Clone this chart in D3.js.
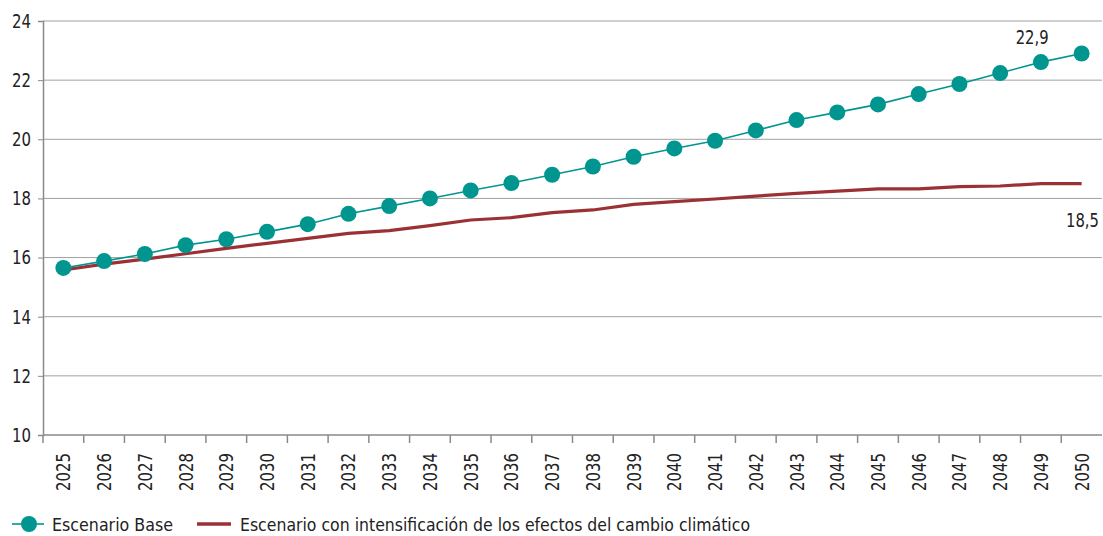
<!DOCTYPE html>
<html>
<head>
<meta charset="utf-8">
<script src="https://cdn.jsdelivr.net/npm/d3@7"></script>
<style>
  body { margin: 0; background: #fff; }
  svg text { font-family: "DejaVu Sans", sans-serif; fill: #222; }
</style>
</head>
<body>
<script>
// years on the x axis
var years = ["2025","2026","2027","2028","2029","2030","2031","2032","2033","2034","2035","2036","2037",
             "2038","2039","2040","2041","2042","2043","2044","2045","2046","2047","2048","2049","2050"];
// Escenario Base
var baseValues = [15.65, 15.88, 16.12, 16.42, 16.62, 16.87, 17.13, 17.48, 17.74, 18.0, 18.27, 18.52, 18.8,
                  19.08, 19.41, 19.69, 19.95, 20.3, 20.65, 20.91, 21.18, 21.53, 21.87, 22.24, 22.61, 22.9];
// Escenario con intensificacion
var climateValues = [15.58, 15.78, 15.95, 16.13, 16.31, 16.48, 16.65, 16.82, 16.91, 17.08, 17.27, 17.35, 17.52,
                     17.61, 17.8, 17.89, 17.98, 18.08, 18.17, 18.25, 18.32, 18.32, 18.4, 18.42, 18.5, 18.5];
var yTicks = [10, 12, 14, 16, 18, 20, 22, 24];
var seriesNames = ["Escenario Base", "Escenario con intensificación de los efectos del cambio climático"];

var width = 1103, height = 536;
var margin = {top: 21, right: 1, bottom: 101, left: 43};
var teal = "#00968f", red = "#9b3135";
var fmt = function(v) { return d3.format(".1f")(v).replace(".", ","); };

var svg = d3.select("body").append("svg")
    .attr("width", width)
    .attr("height", height);

var x = d3.scaleBand()
    .domain(years)
    .range([margin.left, width - margin.right]);

var y = d3.scaleLinear()
    .domain([10, 24])
    .range([height - margin.bottom, margin.top]);

// gridlines
svg.append("g")
    .selectAll("line")
    .data(yTicks.slice(1))
    .enter().append("line")
    .attr("x1", margin.left)
    .attr("x2", width - margin.right)
    .attr("y1", function(d) { return y(d); })
    .attr("y2", function(d) { return y(d); })
    .attr("stroke", "#a0a0a0")
    .attr("stroke-width", 1);

// y axis
var yAxis = svg.append("g")
    .attr("transform", "translate(" + margin.left + ",0)")
    .call(d3.axisLeft(y).tickValues(yTicks).tickSize(5).tickPadding(7));
yAxis.select(".domain").attr("stroke", "#8a8a8a").attr("stroke-width", 1.5);
yAxis.selectAll(".tick line").attr("stroke", "#8a8a8a");
yAxis.selectAll("text")
    .style("font-size", "20px")
    .attr("fill", "#222")
    .attr("textLength", 19)
    .attr("lengthAdjust", "spacingAndGlyphs");

// x axis with ticks on band edges
var xAxisG = svg.append("g")
    .attr("transform", "translate(0," + y(10) + ")");
xAxisG.append("line")
    .attr("x1", margin.left).attr("x2", width - margin.right)
    .attr("stroke", "#8a8a8a").attr("stroke-width", 1.5);
xAxisG.selectAll(".tk")
    .data(years)
    .enter().append("line")
    .attr("class", "tk")
    .attr("x1", function(d) { return x(d); })
    .attr("x2", function(d) { return x(d); })
    .attr("y1", 0).attr("y2", 8)
    .attr("stroke", "#8a8a8a").attr("stroke-width", 1.5);
xAxisG.selectAll(".yr")
    .data(years)
    .enter().append("text")
    .attr("class", "yr")
    .attr("transform", function(d) { return "translate(" + (x(d) + x.bandwidth() / 2 + 7) + ",18) rotate(-90)"; })
    .attr("text-anchor", "end")
    .attr("textLength", 38)
    .attr("lengthAdjust", "spacingAndGlyphs")
    .style("font-size", "20px")
    .text(function(d) { return d; });

var line = d3.line()
    .x(function(d, i) { return x(years[i]) + x.bandwidth() / 2; })
    .y(function(d) { return y(d); });

// climate scenario line
svg.append("path")
    .datum(climateValues)
    .attr("d", line)
    .attr("fill", "none")
    .attr("stroke", red)
    .attr("stroke-width", 3.2);

// base scenario line + markers
svg.append("path")
    .datum(baseValues)
    .attr("d", line)
    .attr("fill", "none")
    .attr("stroke", teal)
    .attr("stroke-width", 1.6);

svg.append("g")
    .selectAll("circle")
    .data(baseValues)
    .enter().append("circle")
    .attr("cx", function(d, i) { return x(years[i]) + x.bandwidth() / 2; })
    .attr("cy", function(d) { return y(d); })
    .attr("r", 8)
    .attr("fill", teal);

// end labels (squeezed horizontally to mimic a condensed face)
var last = years.length - 1;
svg.append("text")
    .attr("transform", "translate(" + (x(years[last]) + x.bandwidth() / 2 - 66) + "," + (y(baseValues[last]) - 10) + ") scale(0.74,1)")
    .style("font-size", "20px")
    .text(fmt(baseValues[last]));
svg.append("text")
    .attr("transform", "translate(" + (width - 37) + "," + (y(climateValues[last]) + 43) + ") scale(0.74,1)")
    .style("font-size", "20px")
    .text(fmt(climateValues[last]));

// legend
var legend = svg.append("g").attr("transform", "translate(0,524)");
legend.append("line").attr("x1", 12).attr("x2", 44).attr("stroke", teal).attr("stroke-width", 1.6);
legend.append("circle").attr("cx", 29).attr("cy", 0).attr("r", 8).attr("fill", teal);
legend.append("text").attr("x", 52).attr("y", 6.5).style("font-size", "18px")
    .attr("textLength", 121).attr("lengthAdjust", "spacingAndGlyphs")
    .text(seriesNames[0]);
legend.append("line").attr("x1", 197).attr("x2", 231).attr("stroke", red).attr("stroke-width", 3.5);
legend.append("text").attr("x", 240).attr("y", 6.5).style("font-size", "18px")
    .attr("textLength", 510).attr("lengthAdjust", "spacingAndGlyphs")
    .text(seriesNames[1]);
</script>
</body>
</html>
